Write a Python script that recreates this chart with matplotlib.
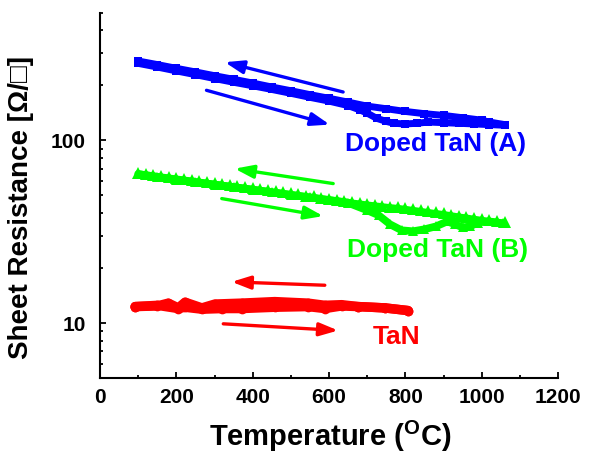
import matplotlib
matplotlib.use("Agg")
import matplotlib.pyplot as plt
from matplotlib.ticker import LogLocator, NullFormatter, FixedLocator, MultipleLocator

plt.rcParams['font.family'] = ['Liberation Sans', 'DejaVu Sans']
plt.rcParams['font.weight'] = 'bold'
plt.rcParams['mathtext.fontset'] = 'custom'
plt.rcParams['mathtext.bf'] = 'Liberation Sans:bold'
plt.rcParams['mathtext.rm'] = 'Liberation Sans:bold'

# ---------------- data ----------------
# Doped TaN (A) - squares
a_heat_T = [100, 150, 200, 250, 300, 350, 400, 450, 500, 550, 600, 650, 680, 700, 725, 750, 770,
            800, 830, 860, 900, 940, 980, 1020, 1060]
a_heat_R = [264, 252, 240, 229, 218, 208, 199, 190, 181, 172, 164, 155, 147, 141, 132, 127, 124,
            123, 124, 126, 125, 124, 123, 122, 121]
a_cool_T = [1060, 1020, 1000, 950, 900, 850, 800, 750, 700, 650, 600, 550, 500, 450, 400, 350,
            300, 250, 200, 150, 100]
a_cool_R = [122, 126, 129, 133, 137, 140, 144, 149, 154, 162, 170, 178, 187, 196, 206, 216,
            226, 237, 248, 260, 272]

# Doped TaN (B) - triangles
b_heat_T = [100, 150, 200, 250, 300, 350, 400, 450, 500, 550, 600, 650, 700, 730, 760, 790,
            820, 850, 880, 910, 930, 950, 970, 990, 1020, 1055]
b_heat_R = [65.5, 63.0, 61.0, 59.0, 57.3, 55.5, 53.7, 52.0, 50.3, 48.7, 47.1, 45.5, 41.4, 38.9,
            34.7, 32.2, 31.8, 32.6, 33.8, 36.0, 34.7, 33.4, 33.8, 35.5, 36.0, 35.2]
b_cool_T = [1060, 1040, 1020, 1000, 980, 960, 940, 920, 900, 880, 860, 840, 820, 800, 780, 760,
            740, 720, 700, 680, 660, 640, 620, 600, 580, 560, 540, 520, 500, 480, 460, 440,
            420, 400, 380, 360, 340, 320, 300, 280, 260, 240, 220, 200, 180, 160, 140, 120, 100]
b_cool_R = [35.6, 36.0, 36.5, 37.0, 37.5, 38.1, 38.6, 39.2, 39.8, 40.3, 40.8, 41.4, 41.9, 42.5,
            43.0, 43.4, 43.9, 44.4, 44.9, 45.5, 46.0, 46.8, 47.4, 48.0, 48.6, 49.3, 49.9, 50.6,
            51.2, 51.9, 52.6, 53.3, 54.0, 54.7, 55.4, 56.1, 56.8, 57.6, 58.3, 59.1, 59.9, 60.7,
            61.5, 62.3, 63.1, 63.9, 64.8, 65.6, 66.5]

# TaN - circles
t_heat_T = [92, 150, 205, 223, 267, 320, 371, 458, 545, 589, 633, 677, 746, 807]
t_heat_R = [12.3, 12.5, 12.0, 12.2, 11.9, 12.0, 12.0, 12.2, 12.3, 12.0, 12.4, 12.3, 12.1, 11.7]
t_cool_T = [807, 746, 677, 633, 589, 545, 458, 371, 301, 267, 223, 205, 179, 150, 92]
t_cool_R = [11.7, 12.1, 12.3, 12.6, 12.5, 12.85, 13.1, 12.85, 12.7, 12.1, 13.0, 12.1, 12.85, 12.4, 12.3]

# arrows: (tail T, tail R, head T, head R)
arrows_a = [(637, 184, 327, 268), (279, 188, 602, 122)]
arrows_b = [(611, 58, 353, 70), (319, 48, 585, 38.5)]
arrows_t = [(589, 16.1, 345, 16.8), (323, 9.9, 624, 9.1)]

labels = ["Doped TaN (A)", "Doped TaN (B)", "TaN"]
label_pos = [(880, 95), (885, 25), (778, 8.35)]

x_ticks = [0, 200, 400, 600, 800, 1000, 1200]
y_ticks = [10, 100]

BLUE, GREEN, RED = '#0000FF', '#00FF00', '#FF0000'

# ---------------- figure ----------------
fig = plt.figure(figsize=(5.89, 4.55), dpi=100)
ax = fig.add_axes([100/589, 1-378/455, 458/589, (378-12.7)/455])
ax.set_yscale('log')
ax.set_xlim(0, 1200)
ax.set_ylim(5, 500)

def branch(T, R, color, marker, ms, lw):
    ax.plot(T, R, color=color, lw=lw, solid_capstyle='round', solid_joinstyle='round',
            marker=marker, ms=ms, mec=color, mfc=color, mew=0)

branch(a_heat_T, a_heat_R, BLUE, 's', 5.5, 5)
branch(a_cool_T, a_cool_R, BLUE, 's', 5.5, 5)
branch(b_heat_T, b_heat_R, GREEN, '^', 7, 5.5)
branch(b_cool_T, b_cool_R, GREEN, '^', 8.5, 3.5)
branch(t_heat_T, t_heat_R, RED, 'o', 7, 6.8)
branch(t_cool_T, t_cool_R, RED, 'o', 7, 6.8)

for arrs, c in [(arrows_a, BLUE), (arrows_b, GREEN), (arrows_t, RED)]:
    for (x0, y0, x1, y1) in arrs:
        ax.annotate('', xy=(x1, y1), xytext=(x0, y0),
                    arrowprops=dict(arrowstyle='-|>,head_length=0.8,head_width=0.28',
                                    color=c, lw=2.4, mutation_scale=14,
                                    shrinkA=0, shrinkB=0))

for lab, (x, y), c in zip(labels, label_pos, [BLUE, GREEN, RED]):
    ax.text(x, y, lab, color=c, fontsize=19, fontweight='bold', ha='center', va='center')

ax.xaxis.set_major_locator(FixedLocator(x_ticks))
ax.xaxis.set_minor_locator(MultipleLocator(100))
ax.yaxis.set_major_locator(FixedLocator(y_ticks))
ax.yaxis.set_minor_locator(LogLocator(base=10, subs=range(2, 10)))
ax.yaxis.set_minor_formatter(NullFormatter())
ax.set_yticklabels([str(v) for v in y_ticks])
ax.set_xticklabels([str(v) for v in x_ticks])

for s in ['top', 'right']:
    ax.spines[s].set_visible(False)
for s in ['left', 'bottom']:
    ax.spines[s].set_linewidth(1.5)

ax.tick_params(which='both', direction='in', width=1.3, labelsize=15)
ax.tick_params(which='major', length=4)
ax.tick_params(which='minor', length=2.5)
ax.tick_params(axis='x', pad=7)
ax.tick_params(axis='y', pad=10)
for t in ax.get_xticklabels() + ax.get_yticklabels():
    t.set_fontweight('bold')

fig.text(330/589, 1-446/455, r'Temperature ($^\mathbf{O}$C)', fontsize=21, fontweight='bold',
         ha='center', va='baseline')
fig.text(21.5/589, 1-207.5/455, 'Sheet Resistance [Ω/□]', fontsize=20, fontweight='bold',
         ha='center', va='center', rotation=90)

fig.savefig('out.png', dpi=100)
